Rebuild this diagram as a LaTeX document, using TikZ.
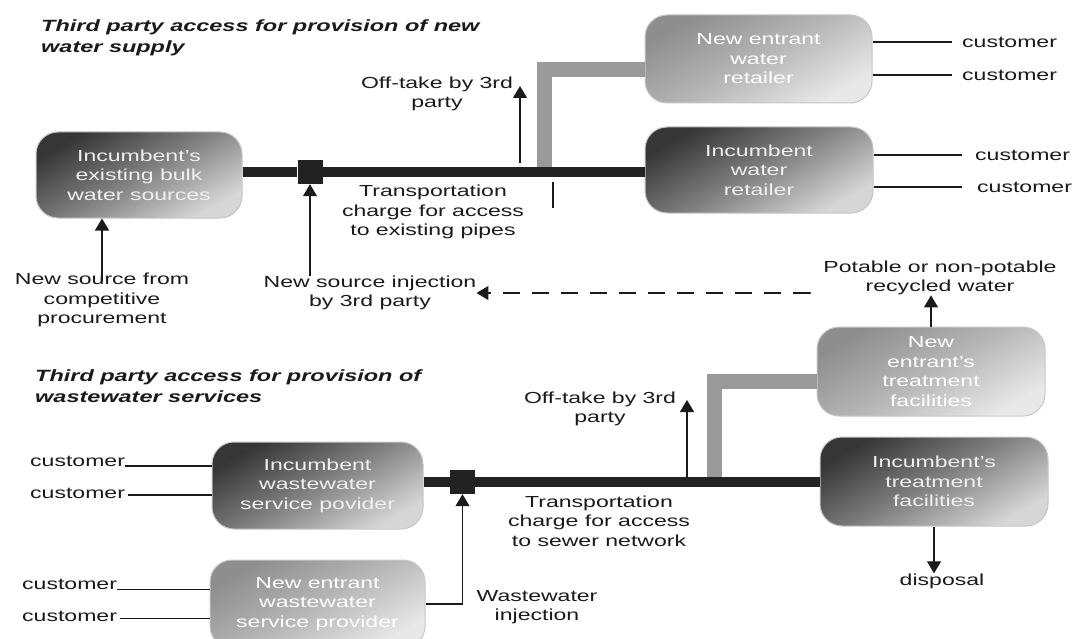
\documentclass[tikz,border=0pt]{standalone}
\usepackage{fontspec}
\setmainfont{Liberation Sans}[FakeStretch=1.44]
\usetikzlibrary{arrows.meta}

\definecolor{dkA}{HTML}{363636}
\definecolor{dkM}{HTML}{808080}
\definecolor{dkB}{HTML}{D6D6D6}
\definecolor{ltA}{HTML}{8E8E8E}
\definecolor{ltM}{HTML}{B6B6B6}
\definecolor{ltB}{HTML}{E8E8E8}
\definecolor{pipecol}{HTML}{222222}
\definecolor{branchcol}{HTML}{9A9A9A}
\definecolor{inktxt}{HTML}{1A1A1A}

\newcommand{\lblfont}{\fontsize{16}{19.5}\selectfont}
\newcommand{\ttlfont}{\fontsize{16.3}{21}\selectfont\bfseries\itshape}

\tikzset{
  box/.style={rounded corners=22, draw=black!22, line width=1, align=center,
              inner sep=0, font=\lblfont},
  darkbox/.style={box, top color=dkA, bottom color=dkB, middle color=dkM,
                  shading angle=30, text=white!94!black},
  lightbox/.style={box, top color=ltA, bottom color=ltB, middle color=ltM,
                   shading angle=30, text=white},
  pipe/.style={draw=pipecol, line width=10},
  branch/.style={draw=branchcol, line width=15, line join=miter},
  joint/.style={fill=pipecol, minimum width=25, minimum height=24, inner sep=0},
  arr/.style={draw=inktxt, line width=1.2, -{Triangle[width=14,length=12]}},
  thin/.style={draw=inktxt, line width=1.2},
  lbl/.style={align=center, inner sep=0, font=\lblfont, text=inktxt},
  cust/.style={inner sep=0, font=\lblfont, text=inktxt},
  ttl/.style={align=left, anchor=west, inner sep=0, font=\ttlfont, text=inktxt},
}

\begin{document}
\begin{tikzpicture}[x=1pt, y=-1pt]
  \fill[white] (0,0) rectangle (1075,639);
  \path[use as bounding box, clip] (0,0) rectangle (1075,639);

  % ---------------- water supply ----------------
  \node[ttl] (t1) at (41,38) {Third party access for provision of new\\water supply};

  \node[darkbox, minimum width=206, minimum height=86] (src) at (139,175)
       {Incumbent's\\existing bulk\\water sources};
  \node[lightbox, minimum width=227, minimum height=88] (ner) at (758.5,59)
       {New entrant\\water\\retailer};
  \node[darkbox, minimum width=228, minimum height=86] (ir) at (759,170)
       {Incumbent\\water\\retailer};

  % branch pipe to the new entrant retailer
  \coordinate (j1) at (544,172);
  \coordinate (b1) at (544,69.5);
  \draw[branch] (j1) -- (b1) -- (b1 -| ner.west);

  % main pipe with injection joint
  \node[joint] (sq1) at (310,172) {};
  \draw[pipe] (sq1 -| src.east) -- (sq1.west);
  \draw[pipe] (sq1.east) -- (sq1 -| ir.west);

  % charge marker
  \coordinate (k1) at (553,182);
  \coordinate (k2) at (553,208);
  \draw[thin, line width=1.5] (k1) -- (k2);

  \node[lbl] (tr1) at (433,212) {Transportation\\charge for access\\to existing pipes};
  \node[lbl] (off1) at (437,94) {Off-take by 3rd\\party};
  \coordinate (o1a) at (520,163);
  \coordinate (o1b) at (520,86);
  \draw[arr] (o1a) -- (o1b);

  \node[lbl] (nsf) at (102,300) {New source from\\competitive\\procurement};
  \draw[arr] ([yshift=-8]nsf.north) -- (nsf.north |- src.south);

  \node[lbl] (inj) at (370,293) {New source injection\\by 3rd party};
  \draw[arr] (sq1.south |- inj.north) -- (sq1.south);

  % recycled water returned for injection
  \node[lbl] (pot) at (940,278) {Potable or non-potable\\recycled water};
  \coordinate (ds) at (810,293);
  \draw[arr, dash pattern=on 17 off 12] (ds) -- (inj.east);
  \fill[inktxt] (ds) circle (1);

  % retail customers
  \node[cust, anchor=west] (c1) at (962,42) {customer};
  \node[cust, anchor=west] (c2) at (962,75) {customer};
  \node[cust, anchor=west] (c3) at (975,155) {customer};
  \node[cust, anchor=west] (c4) at (977,187) {customer};
  \draw[thin] (c1.west -| ner.east) -- ([xshift=-10]c1.west);
  \draw[thin] (c2.west -| ner.east) -- ([xshift=-10]c2.west);
  \draw[thin] (c3.west -| ir.east) -- ([xshift=-13]c3.west);
  \draw[thin] (c4.west -| ir.east) -- ([xshift=-15]c4.west);

  % ---------------- wastewater ----------------
  \node[ttl] (t2) at (35,386) {Third party access for provision of\\wastewater services};

  \node[darkbox, minimum width=211, minimum height=87] (iw) at (317.5,485.5)
       {Incumbent\\wastewater\\service povider};
  \node[lightbox, minimum width=215, minimum height=88] (nw) at (317.5,604)
       {New entrant\\wastewater\\service provider};
  \node[lightbox, minimum width=228, minimum height=89] (net) at (931,371.5)
       {New\\entrant's\\treatment\\facilities};
  \node[darkbox, minimum width=228, minimum height=89] (it) at (934,481.5)
       {Incumbent's\\treatment\\facilities};

  \coordinate (j2) at (714.5,482);
  \coordinate (b2) at (714.5,381);
  \draw[branch] (j2) -- (b2) -- (b2 -| net.west);

  \node[joint] (sq2) at (462.5,482) {};
  \draw[pipe] (sq2 -| iw.east) -- (sq2.west);
  \draw[pipe] (sq2.east) -- (sq2 -| it.west);

  \node[lbl] (tr2) at (599,521) {Transportation\\charge for access\\to sewer network};
  \node[lbl] (off2) at (600,409) {Off-take by 3rd\\party};
  \coordinate (o2a) at (687,477);
  \coordinate (o2b) at (687,400);
  \draw[arr] (o2a) -- (o2b);

  \node[lbl] (wi) at (537,607) {Wastewater\\injection};
  \draw[arr] (nw.east) -| (sq2.south);

  \draw[arr] (net.north) -- (net.north |- pot.south);

  \node[lbl] (disp) at (942,581) {disposal};
  \draw[arr] (it.south) -- (it.south |- disp.north);

  % wastewater customers
  \node[cust, anchor=west] (c5) at (30,461) {customer};
  \node[cust, anchor=west] (c6) at (30,493) {customer};
  \node[cust, anchor=west] (c7) at (22,584) {customer};
  \node[cust, anchor=west] (c8) at (22,616) {customer};
  \draw[thin] (c5.base east) -- (c5.base east -| iw.west);
  \draw[thin] ([xshift=3,yshift=3]c6.base east) -- ([yshift=3]c6.base east -| iw.west);
  \draw[thin] (c7.base east) -- (c7.base east -| nw.west);
  \draw[thin] ([xshift=3,yshift=3]c8.base east) -- ([yshift=3]c8.base east -| nw.west);
\end{tikzpicture}
\end{document}
